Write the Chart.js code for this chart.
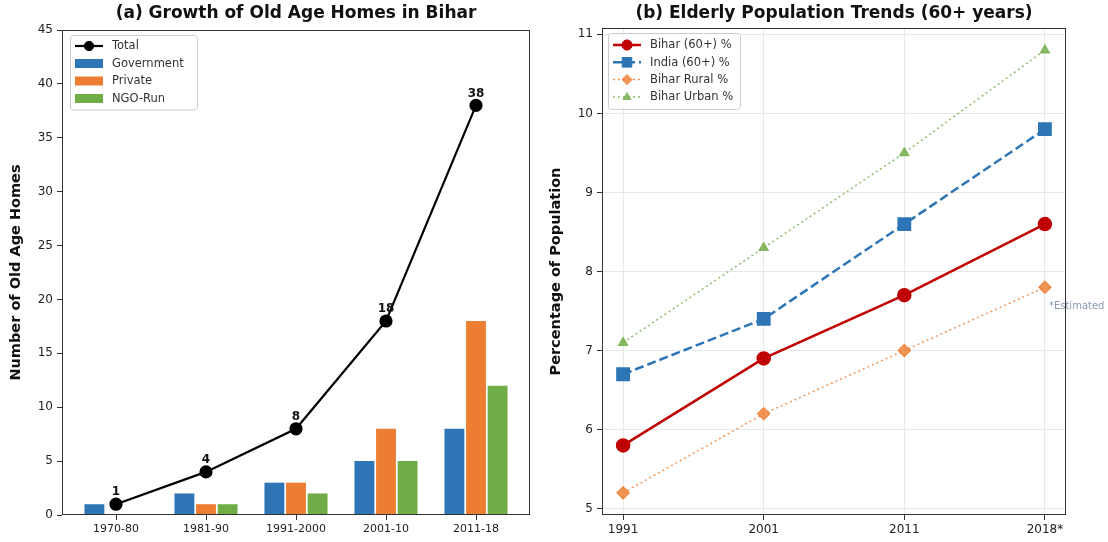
<!DOCTYPE html>
<html>
<head>
<meta charset="utf-8">
<script src="https://cdn.jsdelivr.net/npm/chart.js@4.4.1/dist/chart.umd.min.js"></script>
<style>
  html, body { margin: 0; padding: 0; background: #fff; }
  #wrap { position: relative; width: 1108px; height: 542px; }
  .panel { position: absolute; top: 0; height: 542px; }
  #left { left: 0; width: 540px; }
  #right { left: 540px; width: 568px; }
</style>
</head>
<body>
<div id="wrap">
  <div class="panel" id="left"><canvas id="homes"></canvas></div>
  <div class="panel" id="right"><canvas id="elderly"></canvas></div>
</div>
<script>
// (a) old age homes per period
const periods = ["1970-80", "1981-90", "1991-2000", "2001-10", "2011-18"];
const government = [1, 2, 3, 5, 8];
const privateHomes = [0, 1, 3, 8, 18];
const ngoRun = [0, 1, 2, 5, 12];
const totalHomes = [1, 4, 8, 18, 38];

// (b) elderly share of population
const years = ["1991", "2001", "2011", "2018*"];
const biharPct = [5.8, 6.9, 7.7, 8.6];
const indiaPct = [6.7, 7.4, 8.6, 9.8];
const biharRural = [5.2, 6.2, 7.0, 7.8];
const biharUrban = [7.1, 8.3, 9.5, 10.8];
const pctTicks = [5, 6, 7, 8, 9, 10, 11];

const FONT = "'DejaVu Sans', sans-serif";
Chart.defaults.font.family = FONT;
Chart.defaults.color = "#222";

const xy = (arr) => arr.map((v, i) => ({ x: i, y: v }));

function drawMarker(ctx, style, x, y, r, color) {
  ctx.save();
  ctx.fillStyle = color;
  ctx.strokeStyle = color;
  ctx.lineWidth = 1;
  ctx.setLineDash([]);
  ctx.beginPath();
  if (style === "circle") {
    ctx.arc(x, y, r, 0, Math.PI * 2);
  } else if (style === "rect") {
    const s = r * Math.SQRT1_2;
    ctx.rect(x - s, y - s, 2 * s, 2 * s);
  } else if (style === "rectRot") {
    ctx.moveTo(x, y - r);
    ctx.lineTo(x + r, y);
    ctx.lineTo(x, y + r);
    ctx.lineTo(x - r, y);
    ctx.closePath();
  } else if (style === "triangle") {
    ctx.moveTo(x, y - r);
    ctx.lineTo(x + r * 0.95, y + r * 0.6);
    ctx.lineTo(x - r * 0.95, y + r * 0.6);
    ctx.closePath();
  }
  ctx.fill();
  ctx.stroke();
  ctx.restore();
}

// title centred over the plot area, frame round it
const panelTitle = {
  id: "panelTitle",
  afterDraw(chart, args, opts) {
    const { ctx, chartArea } = chart;
    ctx.save();
    ctx.font = "bold 17px " + FONT;
    ctx.fillStyle = "#111";
    ctx.textAlign = "center";
    ctx.textBaseline = "middle";
    ctx.fillText(opts.text, (chartArea.left + chartArea.right) / 2, opts.y);
    ctx.restore();
  },
  afterDatasetsDraw(chart) {
    const { ctx, chartArea } = chart;
    ctx.save();
    ctx.strokeStyle = "#333";
    ctx.lineWidth = 1;
    ctx.strokeRect(chartArea.left + 0.5, chartArea.top + 0.5,
      chartArea.right - chartArea.left - 1, chartArea.bottom - chartArea.top - 1);
    ctx.restore();
  }
};

// matplotlib-like legend inside the axes
const boxLegend = {
  id: "boxLegend",
  afterDraw(chart, args, opts) {
    const { ctx, chartArea } = chart;
    const left = chartArea.left + opts.dx;
    const top = chartArea.top + opts.dy;
    const n = chart.data.datasets.length;
    const h = opts.first * 2 + opts.row * (n - 1);
    ctx.save();
    ctx.fillStyle = "rgba(255,255,255,0.85)";
    ctx.strokeStyle = "#cccccc";
    ctx.lineWidth = 1;
    ctx.beginPath();
    ctx.roundRect(left + 0.5, top + 0.5, opts.width, h, 3);
    ctx.fill();
    ctx.stroke();
    chart.data.datasets.forEach((ds, i) => {
      const y = top + opts.first + i * opts.row;
      const x0 = left + 5;
      const x1 = left + 33;
      if (ds.type === "line" || chart.config.type === "line") {
        ctx.save();
        ctx.strokeStyle = ds.borderColor;
        ctx.lineWidth = ds.borderWidth;
        ctx.setLineDash(ds.borderDash || []);
        ctx.beginPath();
        ctx.moveTo(x0, y);
        ctx.lineTo(x1, y);
        ctx.stroke();
        ctx.restore();
        drawMarker(ctx, ds.pointStyle, (x0 + x1) / 2, y, ds.pointRadius * 0.85, ds.borderColor);
      } else {
        ctx.fillStyle = ds.backgroundColor;
        ctx.fillRect(x0, y - 4.5, x1 - x0, 9);
      }
      ctx.fillStyle = "#333";
      ctx.font = opts.font + "px " + FONT;
      ctx.textAlign = "left";
      ctx.textBaseline = "middle";
      ctx.fillText(ds.label, left + 42, y + 0.5);
    });
    ctx.restore();
  }
};

// bold totals above the line points
const totalLabels = {
  id: "totalLabels",
  afterDatasetsDraw(chart) {
    const { ctx } = chart;
    chart.data.datasets.forEach((ds, di) => {
      if (!ds.showValues) return;
      const meta = chart.getDatasetMeta(di);
      ctx.save();
      ctx.font = "bold 12px " + FONT;
      ctx.fillStyle = "#111";
      ctx.textAlign = "center";
      ctx.textBaseline = "bottom";
      meta.data.forEach((pt, i) => {
        ctx.fillText(String(totalHomes[i]), pt.x, pt.y - 6);
      });
      ctx.restore();
    });
  }
};

// "*Estimated" note beside the last point
const estimateNote = {
  id: "estimateNote",
  afterDraw(chart) {
    const { ctx, scales } = chart;
    ctx.save();
    ctx.font = "10px " + FONT;
    ctx.fillStyle = "#8a9ab0";
    ctx.textAlign = "left";
    ctx.textBaseline = "middle";
    ctx.fillText("*Estimated", scales.x.getPixelForValue(3) + 4, scales.y.getPixelForValue(7.56));
    ctx.restore();
  }
};

new Chart(document.getElementById("homes"), {
  type: "bar",
  data: {
    datasets: [
      {
        type: "line",
        label: "Total",
        data: xy(totalHomes),
        borderColor: "#000",
        backgroundColor: "#000",
        borderWidth: 2.2,
        tension: 0,
        pointStyle: "circle",
        pointRadius: 5.5,
        pointBackgroundColor: "#000",
        order: 0,
        showValues: true
      },
      { label: "Government", data: xy(government), backgroundColor: "#2e75b6", order: 1 },
      { label: "Private", data: xy(privateHomes), backgroundColor: "#ed7d31", order: 1 },
      { label: "NGO-Run", data: xy(ngoRun), backgroundColor: "#70ad47", order: 1 }
    ]
  },
  options: {
    responsive: true,
    maintainAspectRatio: false,
    animation: false,
    layout: { padding: { top: 30, right: 10, left: 0, bottom: 0 } },
    datasets: { bar: { categoryPercentage: 0.72, barPercentage: 0.92 } },
    plugins: {
      legend: { display: false },
      tooltip: { enabled: false },
      panelTitle: { text: "(a) Growth of Old Age Homes in Bihar", y: 14 },
      boxLegend: { dx: 8, dy: 5, width: 127, first: 11, row: 17.5, font: 11.5 }
    },
    scales: {
      x: {
        type: "linear",
        offset: false,
        min: -0.6,
        max: 4.6,
        afterBuildTicks: (s) => { s.ticks = periods.map((_, i) => ({ value: i })); },
        afterFit: (s) => { s.height = 27; },
        ticks: {
          callback: (v) => periods[Math.round(v)],
          font: { size: 11 },
          color: "#222",
          padding: 3,
          autoSkip: false,
          maxRotation: 0
        },
        grid: { offset: false, drawOnChartArea: false, tickLength: 5, color: "#333" },
        border: { display: false }
      },
      y: {
        min: 0,
        max: 45,
        afterFit: (s) => { s.width = 62; },
        ticks: { stepSize: 5, font: { size: 12 }, color: "#222", padding: 4 },
        grid: { drawOnChartArea: false, tickLength: 5, color: "#333" },
        border: { display: false },
        title: {
          display: true,
          text: "Number of Old Age Homes",
          font: { size: 14.5, weight: "bold" },
          color: "#111",
          padding: { top: 8, bottom: 0 }
        }
      }
    }
  },
  plugins: [panelTitle, boxLegend, totalLabels]
});

new Chart(document.getElementById("elderly"), {
  type: "line",
  data: {
    datasets: [
      {
        label: "Bihar (60+) %",
        data: xy(biharPct),
        borderColor: "#c00000",
        backgroundColor: "#c00000",
        borderWidth: 2.5,
        pointStyle: "circle",
        pointRadius: 6,
        pointBackgroundColor: "#c00000"
      },
      {
        label: "India (60+) %",
        data: xy(indiaPct),
        borderColor: "#2e75b6",
        backgroundColor: "#2e75b6",
        borderWidth: 2.5,
        borderDash: [9, 4],
        pointStyle: "rect",
        pointRadius: 8,
        pointBackgroundColor: "#2e75b6"
      },
      {
        label: "Bihar Rural %",
        data: xy(biharRural),
        borderColor: "rgba(237,125,49,0.8)",
        backgroundColor: "rgba(237,125,49,0.8)",
        borderWidth: 1.5,
        borderDash: [2, 3],
        pointStyle: "rectRot",
        pointRadius: 6,
        pointBackgroundColor: "rgba(237,125,49,0.8)"
      },
      {
        label: "Bihar Urban %",
        data: xy(biharUrban),
        borderColor: "rgba(112,173,71,0.8)",
        backgroundColor: "rgba(112,173,71,0.8)",
        borderWidth: 1.5,
        borderDash: [2, 3],
        pointStyle: "triangle",
        pointRadius: 5,
        pointBackgroundColor: "rgba(112,173,71,0.8)"
      }
    ]
  },
  options: {
    responsive: true,
    maintainAspectRatio: false,
    animation: false,
    layout: { padding: { top: 28, right: 42, left: 0, bottom: 0 } },
    elements: { line: { tension: 0 }, point: { borderWidth: 1 } },
    plugins: {
      legend: { display: false },
      tooltip: { enabled: false },
      panelTitle: { text: "(b) Elderly Population Trends (60+ years)", y: 14 },
      boxLegend: { dx: 6, dy: 5, width: 132, first: 12, row: 17.3, font: 11.5 }
    },
    scales: {
      x: {
        type: "linear",
        min: -0.15,
        max: 3.15,
        afterBuildTicks: (s) => { s.ticks = years.map((_, i) => ({ value: i })); },
        afterFit: (s) => { s.height = 27; },
        ticks: {
          callback: (v) => years[Math.round(v)],
          font: { size: 12 },
          color: "#222",
          padding: 3,
          autoSkip: false,
          maxRotation: 0
        },
        grid: { color: "#e8e8e8", tickColor: "#333", tickLength: 5 },
        border: { display: false }
      },
      y: {
        min: 4.92,
        max: 11.08,
        afterBuildTicks: (s) => { s.ticks = pctTicks.map((v) => ({ value: v })); },
        afterFit: (s) => { s.width = 62; },
        ticks: { font: { size: 12 }, color: "#222", padding: 4 },
        grid: { color: "#e8e8e8", tickColor: "#333", tickLength: 5 },
        border: { display: false },
        title: {
          display: true,
          text: "Percentage of Population",
          font: { size: 14.5, weight: "bold" },
          color: "#111",
          padding: { top: 8, bottom: 0 }
        }
      }
    }
  },
  plugins: [panelTitle, boxLegend, estimateNote]
});
</script>
</body>
</html>
